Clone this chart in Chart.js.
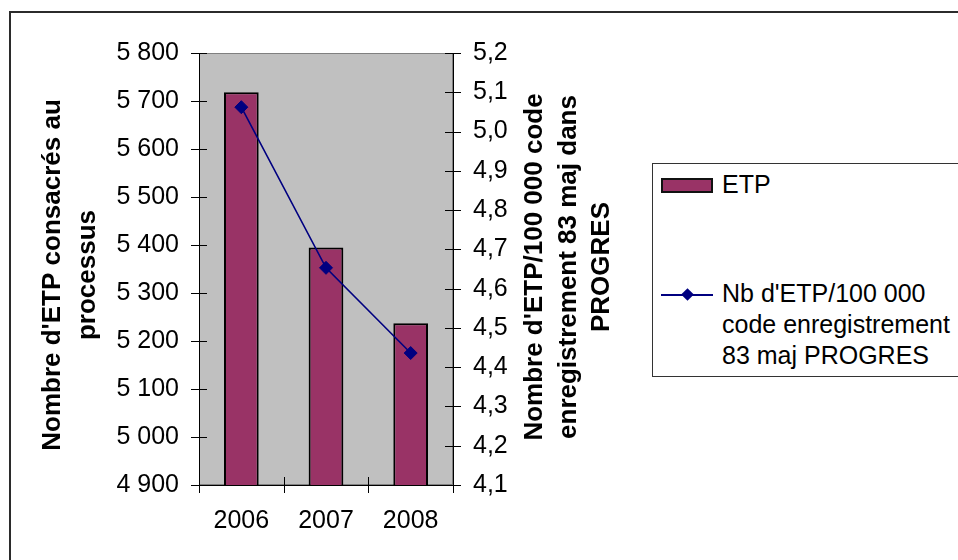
<!DOCTYPE html>
<html>
<head>
<meta charset="utf-8">
<script src="https://cdn.jsdelivr.net/npm/chart.js@4.4.1/dist/chart.umd.min.js"></script>
<style>
  html, body { margin: 0; padding: 0; background: #fff; }
  #wrap { position: relative; width: 958px; height: 560px; overflow: hidden;
          font-family: 'Liberation Sans', Arial, sans-serif; color: #000; }
  #frame { position: absolute; left: 9px; top: 11px; width: 1100px; height: 700px;
           border-left: 2px solid #2b2b2b; border-top: 2px solid #2b2b2b; }
  #chart { position: absolute; left: 0; top: 0; }
  #legend { position: absolute; left: 652px; top: 163px; width: 400px; height: 214px;
            border: 1px solid #333; background: #fff; box-sizing: border-box; }
  .lg-text { position: absolute; left: 69px; font-size: 25px; line-height: 31px; white-space: nowrap; }
  .lg-swatch { position: absolute; left: 8px; width: 52px; height: 15px; box-sizing: border-box;
               border: 2px solid #111; }
  .lg-line { position: absolute; left: 8px; width: 52px; height: 2px; }
  .lg-diamond { position: absolute; width: 9px; height: 9px; transform: rotate(45deg); }
</style>
</head>
<body>
<div id="wrap">
  <div id="frame"></div>
  <canvas id="chart" width="958" height="560"></canvas>
  <div id="legend"></div>
</div>
<script>
// Years on the category axis
const years = ['2006', '2007', '2008'];
// Full-time equivalents devoted to the process (left axis)
const etpValues = [5718, 5395, 5237];
// FTE per 100 000 registration code 83 updates in PROGRES (right axis)
const ratioValues = [5.062, 4.653, 4.436];

// Tick values for both value axes
const etpTicks = [4900, 5000, 5100, 5200, 5300, 5400, 5500, 5600, 5700, 5800];
const ratioTicks = [4.1, 4.2, 4.3, 4.4, 4.5, 4.6, 4.7, 4.8, 4.9, 5.0, 5.1, 5.2];

// Series names and axis titles
const etpLabel = 'ETP';
const ratioLabel = "Nb d'ETP/100 000 code enregistrement 83 maj PROGRES";
const ratioLegendLines = ["Nb d'ETP/100 000", 'code enregistrement', '83 maj PROGRES'];
const leftTitle = ["Nombre d'ETP consacrés au", 'processus'];
const rightTitle = ["Nombre d'ETP/100 000 code", 'enregistrement 83 maj dans', 'PROGRES'];

const FONT = "'Liberation Sans', Arial, sans-serif";
const BAR_COLOR = '#993366';
const LINE_COLOR = '#000080';

const fmtEtp = v => String(v).replace(/\B(?=(\d{3})+(?!\d))/g, ' ');
const fmtRatio = v => Number(v).toFixed(1).replace('.', ',');

Chart.defaults.font.family = FONT;
Chart.defaults.font.size = 25;
Chart.defaults.color = '#000';

// Grey plot area, crossing tick marks and rotated axis titles
const plotDecor = {
  id: 'plotDecor',
  beforeDraw(chart) {
    const { ctx, chartArea: a } = chart;
    ctx.save();
    ctx.fillStyle = '#c0c0c0';
    ctx.fillRect(a.left, a.top, a.right - a.left, a.bottom - a.top);
    ctx.strokeStyle = '#808080';
    ctx.lineWidth = 1;
    ctx.strokeRect(a.left + 0.5, a.top + 0.5, a.right - a.left - 1, a.bottom - a.top - 1);
    ctx.restore();
  },
  afterDraw(chart) {
    const { ctx, chartArea: a, scales } = chart;
    const T = 8;
    ctx.save();
    ctx.strokeStyle = '#000';
    ctx.lineWidth = 1;
    ctx.beginPath();
    const yl = scales.y;
    yl.ticks.forEach(t => {
      const p = Math.round(yl.getPixelForValue(t.value)) + 0.5;
      ctx.moveTo(a.left - T, p); ctx.lineTo(a.left + T, p);
    });
    const yr = scales.y1;
    yr.ticks.forEach(t => {
      const p = Math.round(yr.getPixelForValue(t.value)) + 0.5;
      ctx.moveTo(a.right - T, p); ctx.lineTo(a.right + T, p);
    });
    const n = years.length;
    for (let i = 0; i <= n; i++) {
      const p = Math.round(a.left + i * (a.right - a.left) / n) + 0.5;
      ctx.moveTo(p, a.bottom - T); ctx.lineTo(p, a.bottom + T);
    }
    ctx.stroke();

    ctx.font = 'bold 26px ' + FONT;
    ctx.fillStyle = '#000';
    ctx.textAlign = 'center';
    ctx.textBaseline = 'middle';
    const drawTitle = (lines, xs, cy) => {
      lines.forEach((txt, i) => {
        ctx.save();
        ctx.translate(xs[i], cy);
        ctx.rotate(-Math.PI / 2);
        ctx.fillText(txt, 0, 0);
        ctx.restore();
      });
    };
    drawTitle(leftTitle, [53, 88], 275);
    drawTitle(rightTitle, [535, 569, 602], 267);
    ctx.restore();
  }
};

const hiddenGrid = { display: true, drawOnChartArea: false, drawTicks: true, tickLength: 8, color: 'rgba(0,0,0,0)' };
const axisBorder = { display: true, color: '#000', width: 1 };

const chart = new Chart(document.getElementById('chart'), {
  data: {
    labels: years,
    datasets: [
      {
        type: 'line',
        label: ratioLabel,
        data: ratioValues,
        yAxisID: 'y1',
        order: 0,
        borderColor: LINE_COLOR,
        borderWidth: 1.6,
        tension: 0,
        pointStyle: 'rectRot',
        pointRadius: 6.5,
        pointBackgroundColor: LINE_COLOR,
        pointBorderColor: LINE_COLOR,
        pointBorderWidth: 1
      },
      {
        type: 'bar',
        label: etpLabel,
        data: etpValues,
        yAxisID: 'y',
        order: 1,
        backgroundColor: BAR_COLOR,
        borderColor: '#000',
        borderWidth: 2,
        barPercentage: 0.41,
        categoryPercentage: 1.0
      }
    ]
  },
  options: {
    responsive: false,
    animation: false,
    layout: { padding: { top: 53, left: 0, right: 0, bottom: 0 } },
    plugins: { legend: { display: false }, tooltip: { enabled: false } },
    scales: {
      x: {
        type: 'category',
        grid: Object.assign({}, hiddenGrid, { offset: true }),
        border: axisBorder,
        ticks: { padding: 13, font: { size: 25 } },
        afterFit: s => { s.height = 75; }
      },
      y: {
        type: 'linear',
        position: 'left',
        min: etpTicks[0],
        max: etpTicks[etpTicks.length - 1],
        grid: hiddenGrid,
        border: axisBorder,
        ticks: { padding: 12, font: { size: 25 }, callback: v => fmtEtp(v) },
        afterBuildTicks: s => { s.ticks = etpTicks.map(v => ({ value: v })); },
        afterFit: s => { s.width = 199; }
      },
      y1: {
        type: 'linear',
        position: 'right',
        min: ratioTicks[0],
        max: ratioTicks[ratioTicks.length - 1],
        grid: hiddenGrid,
        border: axisBorder,
        ticks: { padding: 12, font: { size: 25 }, callback: v => fmtRatio(v) },
        afterBuildTicks: s => { s.ticks = ratioTicks.map(v => ({ value: v })); },
        afterFit: s => { s.width = 505; }
      }
    }
  },
  plugins: [plotDecor]
});

// Legend built from the chart's own datasets
(function buildLegend() {
  const box = document.getElementById('legend');
  const bar = chart.data.datasets.find(d => d.type === 'bar');
  const line = chart.data.datasets.find(d => d.type === 'line');

  const sw = document.createElement('div');
  sw.className = 'lg-swatch';
  sw.style.top = '14px';
  sw.style.background = bar.backgroundColor;
  box.appendChild(sw);
  const t1 = document.createElement('div');
  t1.className = 'lg-text';
  t1.style.top = '4.5px';
  t1.textContent = bar.label;
  box.appendChild(t1);

  const ln = document.createElement('div');
  ln.className = 'lg-line';
  ln.style.top = '130px';
  ln.style.background = line.borderColor;
  box.appendChild(ln);
  const dm = document.createElement('div');
  dm.className = 'lg-diamond';
  dm.style.left = '30px';
  dm.style.top = '126px';
  dm.style.background = line.pointBackgroundColor;
  box.appendChild(dm);
  const t2 = document.createElement('div');
  t2.className = 'lg-text';
  t2.style.top = '113.5px';
  ratioLegendLines.forEach(s => {
    const d = document.createElement('div');
    d.textContent = s;
    t2.appendChild(d);
  });
  box.appendChild(t2);
})();
</script>
</body>
</html>
